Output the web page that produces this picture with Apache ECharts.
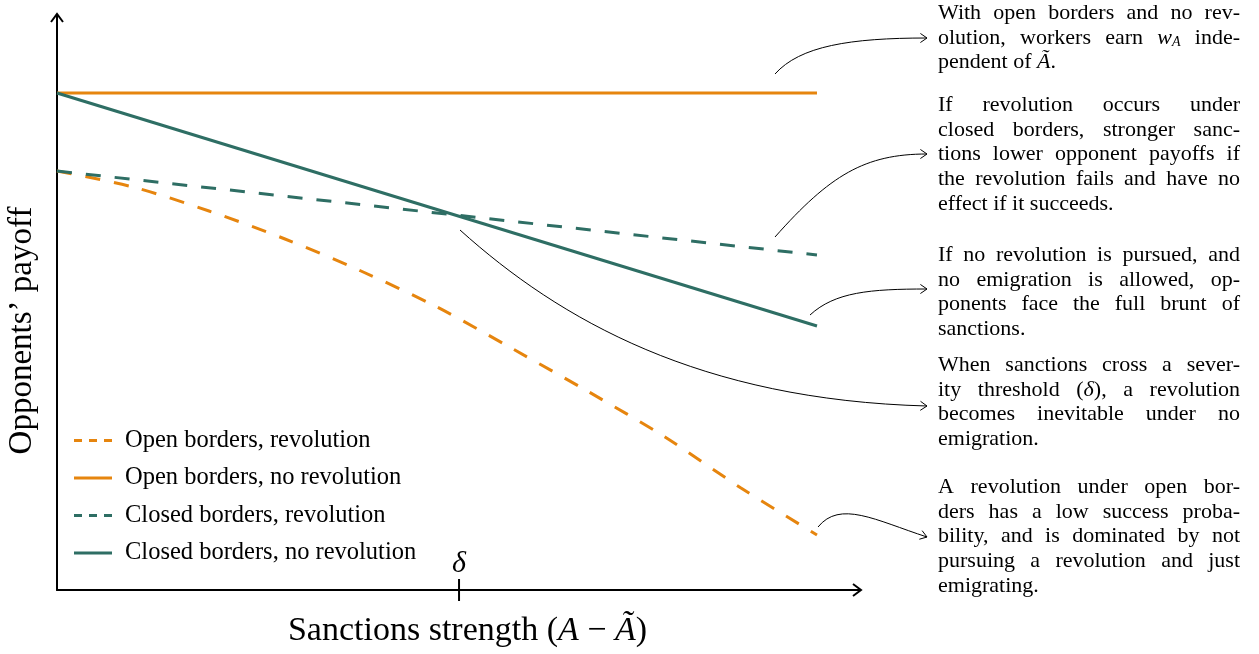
<!DOCTYPE html>
<html>
<head>
<meta charset="utf-8">
<script src="https://cdn.jsdelivr.net/npm/echarts@6.0.0/dist/echarts.min.js"></script>
<style>
  html, body { margin: 0; padding: 0; background: #fff; }
  #chart { width: 1259px; height: 654px; }
</style>
</head>
<body>
<div id="chart"></div>
<script>
// x = sanctions strength, y = opponents' payoff (arbitrary units)
const sanctions = [0, 1, 2, 3, 4, 5, 6, 7, 8, 9, 10]
const openRevolution = [8.38, 8.06, 7.58, 7.02, 6.38, 5.66, 4.82, 3.96, 3.06, 2.04, 1.10]
const lineEnds = [0, 10]
const openNoRevolution = [9.94, 9.94]
const closedRevolution = [8.38, 6.70]
const closedNoRevolution = [9.94, 5.28]
const delta = 5.29

const seriesNames = [
  'Open borders, revolution',
  'Open borders, no revolution',
  'Closed borders, revolution',
  'Closed borders, no revolution',
]

// side notes, one entry per printed line
const notes = [
  ['With open borders and no rev-', 'olution, workers earn {i|w}{s|A} inde-', 'pendent of {i|Ã}.'],
  ['If revolution occurs under', 'closed borders, stronger sanc-', 'tions lower opponent payoffs if',
    'the revolution fails and have no', 'effect if it succeeds.'],
  ['If no revolution is pursued, and', 'no emigration is allowed, op-', 'ponents face the full brunt of', 'sanctions.'],
  ['When sanctions cross a sever-', 'ity threshold ({i|δ}), a revolution', 'becomes inevitable under no', 'emigration.'],
  ['A revolution under open bor-', 'ders has a low success proba-', 'bility, and is dominated by not',
    'pursuing a revolution and just', 'emigrating.'],
]
const noteTops = [13, 105, 255, 365, 487]

const ORANGE = '#E6850E'
const TEAL = '#2E6E64'
const FONT = 'Liberation Serif'
const NOTE_SIZE = 22

const DASH_ICON = 'path://M0,0h8v3h-8zM15,0h8v3h-8zM30,0h8v3h-8z'
const SOLID_ICON = 'path://M0,0h38v3h-38z'

const chart = echarts.init(document.getElementById('chart'))

const line = (name, data, color, dashed, smooth) => ({
  name,
  type: 'line',
  data,
  smooth: smooth || false,
  symbol: 'none',
  showSymbol: false,
  lineStyle: { color, width: 3, type: dashed ? [15, 14] : 'solid', cap: 'butt' },
  itemStyle: { color },
})

const option = {
  animation: false,
  grid: { left: 57, right: 399, top: 15, bottom: 64, containLabel: false, outerBoundsMode: 'none' },
  xAxis: {
    type: 'value',
    min: 0,
    max: 10.566,
    axisLine: { lineStyle: { color: '#000', width: 2 } },
    axisTick: { show: false },
    axisLabel: { show: false },
    splitLine: { show: false },
    name: 'Sanctions strength ({i|A} − {i|Ã})',
    nameLocation: 'middle',
    nameGap: 24,
    nameTextStyle: {
      fontFamily: FONT,
      fontSize: 34,
      color: '#000',
      padding: [0, 0, 0, 18],
      rich: { i: { fontFamily: FONT, fontSize: 34, fontStyle: 'italic', color: '#000' } },
    },
  },
  yAxis: {
    type: 'value',
    min: 0,
    max: 11.5,
    axisLine: { lineStyle: { color: '#000', width: 2 } },
    axisTick: { show: false },
    axisLabel: { show: false },
    splitLine: { show: false },
    name: 'Opponents’ payoff',
    nameLocation: 'middle',
    nameGap: 18,
    nameRotate: 90,
    nameTextStyle: { fontFamily: FONT, fontSize: 33, color: '#000', padding: [0, 56, 0, 0] },
  },
  legend: {
    orient: 'vertical',
    left: 69,
    top: 423,
    itemWidth: 38,
    itemHeight: 3,
    itemGap: 12.5,
    textStyle: { fontFamily: FONT, fontSize: 24.5, color: '#000', padding: [0, 0, 0, 8] },
    data: seriesNames.map((name, i) => ({
      name,
      icon: i % 2 === 0 ? DASH_ICON : SOLID_ICON,
    })),
  },
  series: [
    line(seriesNames[0], sanctions.map((x, i) => [x, openRevolution[i]]), ORANGE, true, 0.3),
    line(seriesNames[1], lineEnds.map((x, i) => [x, openNoRevolution[i]]), ORANGE, false),
    line(seriesNames[2], lineEnds.map((x, i) => [x, closedRevolution[i]]), TEAL, true),
    line(seriesNames[3], lineEnds.map((x, i) => [x, closedNoRevolution[i]]), TEAL, false),
  ],
}

chart.setOption(option)

// ---------------------------------------------------------
// annotations: axis arrows, delta tick, side notes with curved arrows

const ctx = document.createElement('canvas').getContext('2d')
const richStyles = {
  i: { fontFamily: FONT, fontSize: NOTE_SIZE, fontStyle: 'italic' },
  s: { fontFamily: FONT, fontSize: 14, fontStyle: 'italic', padding: [9, 0, 0, 0] },
}

function measure(word) {
  let w = 0
  const re = /\{(\w+)\|([^}]*)\}|([^{]+)/g
  let m
  while ((m = re.exec(word))) {
    if (m[3]) {
      ctx.font = `${NOTE_SIZE}px "${FONT}"`
      w += ctx.measureText(m[3]).width
    } else {
      const st = richStyles[m[1]]
      ctx.font = `italic ${st.fontSize}px "${FONT}"`
      w += ctx.measureText(m[2]).width
    }
  }
  return w
}

const noteLeft = 938
const noteWidth = 302
const lineStep = 24.8
const elements = []

notes.forEach((para, p) => {
  para.forEach((text, k) => {
    const y = noteTops[p] + k * lineStep
    const words = text.split(' ')
    const widths = words.map(measure)
    const total = widths.reduce((a, b) => a + b, 0)
    const last = k === para.length - 1
    const gap = last || words.length < 2 ? measure(' ') : (noteWidth - total) / (words.length - 1)
    let x = noteLeft
    words.forEach((word, j) => {
      elements.push({
        type: 'text',
        x,
        y,
        style: {
          text: word,
          rich: richStyles,
          fontFamily: FONT,
          fontSize: NOTE_SIZE,
          fill: '#000',
          align: 'left',
          verticalAlign: 'middle',
        },
      })
      x += widths[j] + gap
    })
  })
})

const thin = { stroke: '#000', lineWidth: 1, fill: null }
const curves = [
  [775, 74, 800, 46, 850, 38, 927, 38],
  [775, 237, 830, 175, 865, 154, 927, 154],
  [810, 315, 835, 292, 870, 289, 927, 289],
  [460, 230, 560, 320, 700, 400, 927, 406],
  [818, 527, 840, 500, 875, 520, 927, 537],
]
curves.forEach(c => {
  elements.push({
    type: 'bezierCurve',
    shape: { x1: c[0], y1: c[1], cpx1: c[2], cpy1: c[3], cpx2: c[4], cpy2: c[5], x2: c[6], y2: c[7] },
    style: thin,
  })
  const ang = Math.atan2(c[7] - c[5], c[6] - c[4])
  const tip = [c[6], c[7]]
  const back = a => [tip[0] - 8 * Math.cos(a), tip[1] - 8 * Math.sin(a)]
  elements.push({
    type: 'polyline',
    shape: { points: [back(ang - 0.6), tip, back(ang + 0.6)] },
    style: thin,
  })
})

// axis arrow heads and the delta tick
const xEnd = chart.convertToPixel({ xAxisIndex: 0, yAxisIndex: 0 }, [option.xAxis.max, 0])
const yEnd = chart.convertToPixel({ xAxisIndex: 0, yAxisIndex: 0 }, [0, option.yAxis.max])
const thick = { stroke: '#000', lineWidth: 2, fill: null }
elements.push({
  type: 'polyline',
  shape: { points: [[xEnd[0] - 7, xEnd[1] - 6], [xEnd[0] + 1, xEnd[1]], [xEnd[0] - 7, xEnd[1] + 6]] },
  style: thick,
})
elements.push({
  type: 'polyline',
  shape: { points: [[yEnd[0] - 6, yEnd[1] + 7], [yEnd[0], yEnd[1] - 1], [yEnd[0] + 6, yEnd[1] + 7]] },
  style: thick,
})
const d = chart.convertToPixel({ xAxisIndex: 0, yAxisIndex: 0 }, [delta, 0])
elements.push({
  type: 'line',
  shape: { x1: d[0], y1: d[1] - 11, x2: d[0], y2: d[1] + 11 },
  style: thick,
})
elements.push({
  type: 'text',
  x: d[0],
  y: d[1] - 26,
  style: {
    text: 'δ',
    fontFamily: FONT,
    fontSize: 30,
    fontStyle: 'italic',
    fill: '#000',
    align: 'center',
    verticalAlign: 'middle',
  },
})

chart.setOption({ graphic: { elements } })
</script>
</body>
</html>
